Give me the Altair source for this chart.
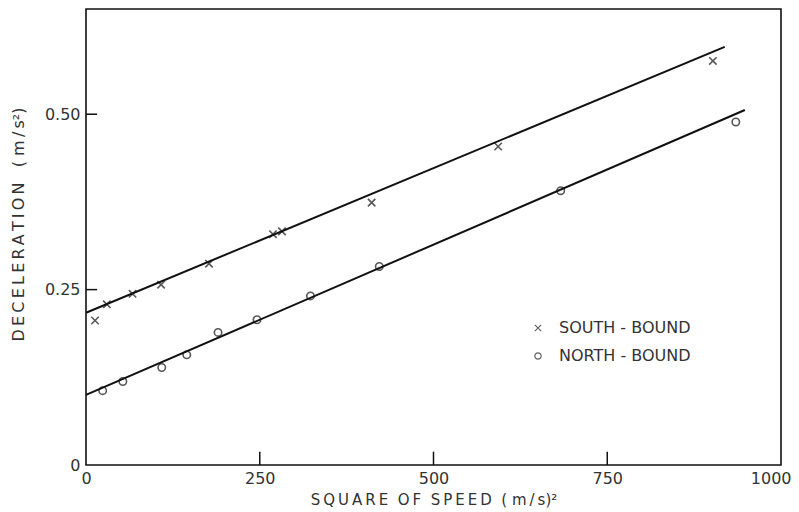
import altair as alt
import pandas as pd

# South-bound observations (x markers)
south_x = [13, 30, 67, 108, 177, 269, 282, 411, 593, 902]
south_y = [0.206, 0.229, 0.244, 0.257, 0.287, 0.329, 0.333, 0.374, 0.454, 0.576]
# North-bound observations (o markers)
north_x = [24, 53, 109, 145, 190, 246, 323, 422, 683, 935]
north_y = [0.106, 0.119, 0.139, 0.157, 0.189, 0.207, 0.241, 0.283, 0.391, 0.489]

# fitted lines (end points)
south_fit_x = [0, 919]
south_fit_y = [0.217, 0.596]
north_fit_x = [0, 948]
north_fit_y = [0.100, 0.506]

series_names = ["SOUTH - BOUND", "NORTH - BOUND"]
x_ticks = [250, 500, 750]
y_ticks = [0.25, 0.50]

T = "\u2009"   # thin space for lettering
NB = "\u00a0"  # non-collapsing word space


def spaced(s):
    return T.join(list(s))


pts = pd.DataFrame({
    "x": south_x + north_x,
    "y": south_y + north_y,
    "series": [series_names[0]] * len(south_x) + [series_names[1]] * len(north_x),
})
fit = pd.DataFrame({
    "x": south_fit_x + north_fit_x,
    "y": south_fit_y + north_fit_y,
    "series": [series_names[0]] * 2 + [series_names[1]] * 2,
})
xt = pd.DataFrame({"v": x_ticks})
yt = pd.DataFrame({"v": y_ticks})

FONT = "DejaVu Sans"
TXT = "#333333"
xs = alt.Scale(domain=[0, 1000], nice=False, zero=False)
ys = alt.Scale(domain=[0, 0.65], nice=False, zero=False)

x_title = (spaced("SQUARE") + NB * 2 + spaced("OF") + NB * 2 + spaced("SPEED")
           + NB * 2 + "(" + NB + "m" + T + "/" + T + "s)²")
y_title = spaced("DECELERATION") + NB * 3 + "(" + NB + "m" + T + "/" + T + "s²)"

xaxis = alt.Axis(values=[0, 250, 500, 750, 1000], ticks=False, grid=False, domain=False,
                 format="d",
                 labelFont=FONT, labelFontSize=16, labelColor=TXT, labelPadding=5,
                 labelFlush=False, labelOverlap=False,
                 labelAlign=alt.condition("datum.value == 1000", alt.value("right"), alt.value("center")),
                 labelOffset=alt.condition("datum.value == 1000", alt.value(10), alt.value(0)),
                 title=x_title,
                 titleFont=FONT, titleFontSize=15,
                 titleFontWeight="normal", titleColor=TXT, titlePadding=6)
yaxis = alt.Axis(values=[0, 0.25, 0.5], ticks=False, grid=False, domain=False,
                 labelExpr="datum.value == 0 ? '0' : format(datum.value, '.2f')",
                 labelFont=FONT, labelFontSize=16, labelColor=TXT, labelPadding=6,
                 labelOverlap=False,
                 title=y_title, titleFont=FONT, titleFontSize=16,
                 titleFontWeight="normal", titleColor=TXT,
                 titleX=-68, titleY=215, titleBaseline="middle", titleAnchor="middle")

xpath = "M-1,-1L1,1M1,-1L-1,1"
shape_scale = alt.Scale(domain=series_names, range=[xpath, "circle"])

points = alt.Chart(pts).mark_point(filled=False, strokeWidth=1.6, color="#111").encode(
    x=alt.X("x:Q", scale=xs, axis=xaxis),
    y=alt.Y("y:Q", scale=ys, axis=yaxis),
    shape=alt.Shape("series:N", scale=shape_scale, sort=series_names,
                    legend=alt.Legend(title=None, orient="none", legendX=444, legendY=311,
                                      labelFont=FONT, labelFontSize=16, labelColor=TXT,
                                      labelLimit=400,
                                      symbolSize=40, symbolStrokeColor="#222",
                                      symbolStrokeWidth=1.2, rowPadding=12, labelOffset=13)),
    size=alt.value(55),
)

lines = alt.Chart(fit).mark_line(color="#111", strokeWidth=2).encode(
    x=alt.X("x:Q", scale=xs),
    y=alt.Y("y:Q", scale=ys),
    detail="series:N",
)

xticks = alt.Chart(xt).mark_rule(color="#111", strokeWidth=1.5).encode(
    x=alt.X("v:Q", scale=xs),
    y=alt.datum(0),
    y2=alt.datum(0.019),
)
yticks = alt.Chart(yt).mark_rule(color="#111", strokeWidth=1.5).encode(
    y=alt.Y("v:Q", scale=ys),
    x=alt.datum(0),
    x2=alt.datum(16),
)

chart = alt.layer(lines, xticks, yticks, points).properties(
    width=695, height=456,
    autosize=alt.AutoSizeParams(type="none"),
    padding={"left": 78, "top": 1, "right": 10, "bottom": 47},
).configure(background="white").configure_view(stroke="#111", strokeWidth=1.6)

chart.save("out.html", embed_options={"renderer": "svg", "actions": False})
